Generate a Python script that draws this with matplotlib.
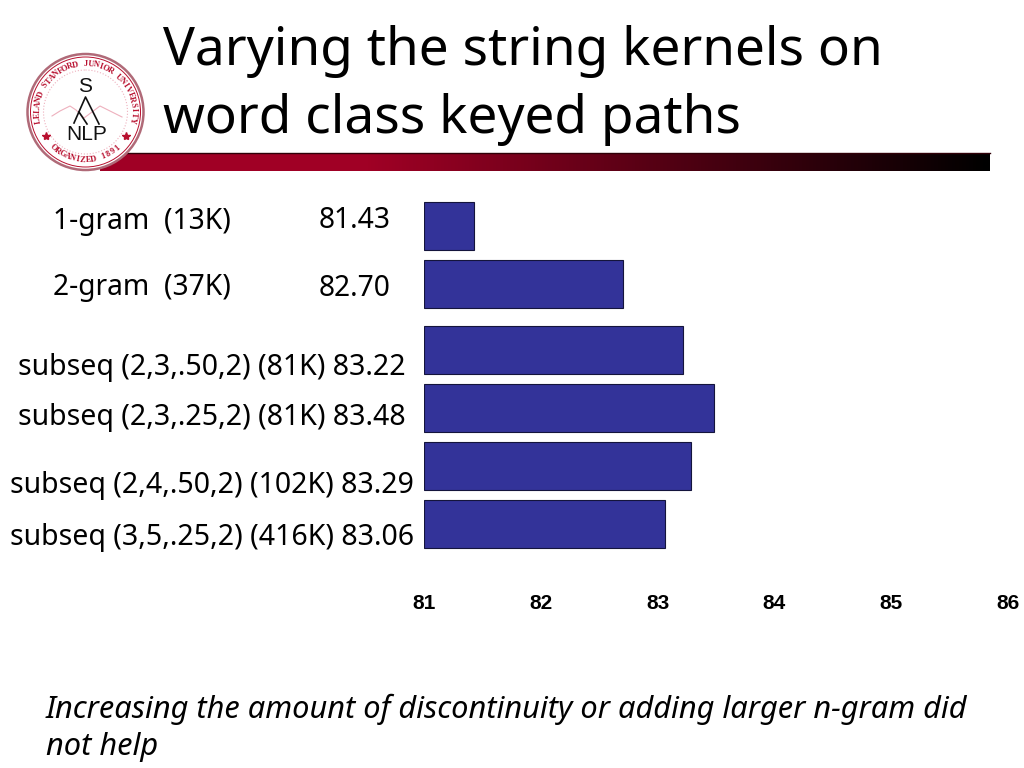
import numpy as np
import matplotlib
matplotlib.use('Agg')
import matplotlib.pyplot as plt
from matplotlib.colors import LinearSegmentedColormap
from matplotlib.patches import Circle

title_lines = ['Varying the string kernels on', 'word class keyed paths']
names = ['1-gram', '2-gram', 'subseq (2,3,.50,2)', 'subseq (2,3,.25,2)',
         'subseq (2,4,.50,2)', 'subseq (3,5,.25,2)']
sizes = ['13K', '37K', '81K', '81K', '102K', '416K']
values = [81.43, 82.70, 83.22, 83.48, 83.29, 83.06]
groups = [0, 0, 1, 1, 1, 1]
ticks = [81, 82, 83, 84, 85, 86]
footnote = ['Increasing the amount of discontinuity or adding larger n-gram did', 'not help']

BLUE = '#333399'
CARDINAL = '#a00025'
FONT = 'Noto Sans'


def px_axes(fig):
    """Full-figure overlay, in reference pixel coordinates."""
    ax = fig.add_axes([0, 0, 1, 1], zorder=0)
    ax.set_xlim(0, 1024)
    ax.set_ylim(768, 0)
    ax.axis('off')
    return ax


def draw_banner(ax):
    cmap = LinearSegmentedColormap.from_list(
        'banner', [(0, CARDINAL), (0.3, CARDINAL), (1, '#000000')])
    ax.imshow(np.linspace(0, 1, 256).reshape(1, -1), cmap=cmap, aspect='auto',
              extent=(100, 990, 171, 153), zorder=1)
    ax.plot([100, 990], [152.5, 152.5], color='#300008', lw=1, zorder=1)
    ax.set_xlim(0, 1024)
    ax.set_ylim(768, 0)


def draw_seal(ax, cx=85.5, cy=112, r=58):
    red = '#b8102f'
    ax.add_patch(Circle((cx, cy), r, fc='white', ec='#b06a78', lw=1.8, zorder=2))
    ax.add_patch(Circle((cx, cy), r - 3, fc='none', ec=red, lw=0.7, zorder=3))
    ax.add_patch(Circle((cx, cy), r - 16, fc='none', ec='#eeb0bd', lw=0.8, ls=':', zorder=3))

    # ring lettering, one rotated character at a time
    top = 'LELAND STANFORD JUNIOR UNIVERSITY'
    for i, ch in enumerate(top):
        a = np.radians(-100 + 200 * i / (len(top) - 1))
        ax.text(cx + (r - 10) * np.sin(a), cy - (r - 10) * np.cos(a), ch,
                rotation=-np.degrees(a), rotation_mode='anchor', ha='center', va='center',
                fontsize=6, family='Liberation Serif', weight='bold', color=red, zorder=4)
    bottom = 'ORGANIZED 1891'
    for i, ch in enumerate(bottom):
        a = np.radians(-42 + 84 * i / (len(bottom) - 1))
        ax.text(cx + (r - 10) * np.sin(a), cy + (r - 10) * np.cos(a), ch,
                rotation=np.degrees(a), rotation_mode='anchor', ha='center', va='center',
                fontsize=6, family='Liberation Serif', weight='bold', color=red, zorder=4)
    ax.plot([46, 126], [136, 136], marker='*', ms=6, color=red, ls='none', zorder=4)

    # mountains
    ax.plot([52, 60, 70, 76, 84, 92, 100, 110, 122],
            [116, 111, 106, 110, 118, 112, 106, 111, 117], color='#eeb0bd', lw=0.8, zorder=3)

    # parse tree
    ax.text(cx, 87, 'S', ha='center', va='center', fontsize=15, family='Liberation Sans',
            color='#111111', zorder=5)
    ax.plot([74, 85.5, 99], [123, 97, 124], color='#111111', lw=1.2, zorder=5)
    ax.plot([79, 87], [112, 124], color='#111111', lw=1.2, zorder=5)
    ax.text(cx + 1, 134, 'NLP', ha='center', va='center', fontsize=15, family='Liberation Sans',
            color='#111111', zorder=5)


fig = plt.figure(figsize=(10.24, 7.68), dpi=100)
bg = px_axes(fig)
draw_banner(bg)
draw_seal(bg)

bg.text(163, 51, title_lines[0], fontsize=38.3, family=FONT, va='center', color='black')
bg.text(163, 120, title_lines[1], fontsize=38.3, family=FONT, va='center', color='black')

# row labels: the first two keep the value in its own column
for name, size, value, y in zip(names[:2], sizes[:2], values[:2], [221, 288]):
    bg.text(53, y, f'{name}  ({size})', fontsize=20.3, family=FONT, va='center')
    bg.text(319, y, f'{value:.2f}', fontsize=20.3, family=FONT, va='center')
for name, size, value, y, x in zip(names[2:], sizes[2:], values[2:],
                                   [367, 417, 486, 538], [18, 18, 10, 10]):
    bg.text(x, y, f'{name} ({size}) {value:.2f}', fontsize=20.5, family=FONT, va='center')

bg.text(46, 709, footnote[0], fontsize=22.15, family=FONT, style='italic', va='center')
bg.text(46, 747, footnote[1], fontsize=22.15, family=FONT, style='italic', va='center')

# chart: one pixel row in the overlay maps to 1/58 of a bar slot
ax = fig.add_axes([424 / 1024, 1 - 590 / 768, (1008 - 424) / 1024, 400 / 768], zorder=1)
ax.patch.set_alpha(0)
pos = np.arange(len(values)) + 0.138 * np.array(groups)
ax.barh(pos, np.array(values) - ticks[0], left=ticks[0], height=48 / 58,
        color=BLUE, edgecolor='#14143c', linewidth=0.8)
ax.set_xlim(ticks[0], ticks[-1])
ax.set_ylim((590 - 226) / 58, (190 - 226) / 58)
ax.set_xticks(ticks)
ax.set_yticks([])
ax.tick_params(axis='x', length=0, pad=3)
for lab in ax.get_xticklabels():
    lab.set_fontfamily('Liberation Sans')
    lab.set_fontweight('bold')
    lab.set_fontsize(15)
for spine in ax.spines.values():
    spine.set_visible(False)

fig.savefig('out.png', dpi=100)
